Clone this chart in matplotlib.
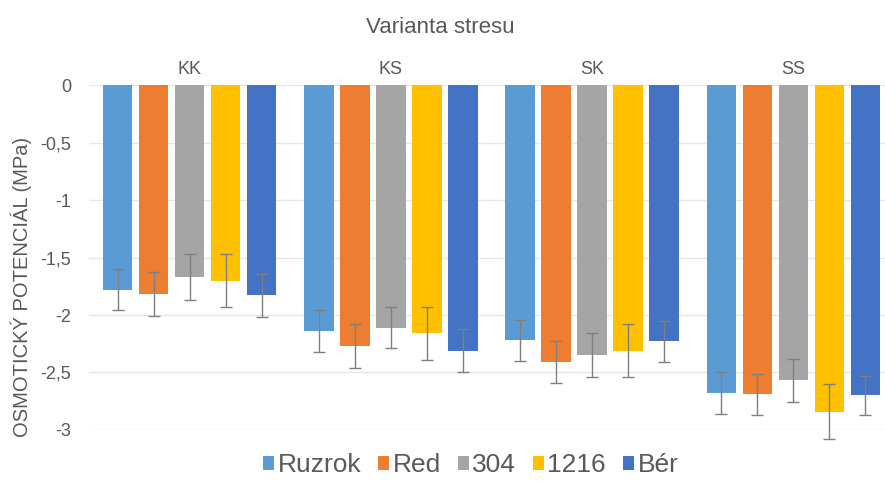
#!/usr/bin/env python3
"""Osmotic potential by stress variant - grouped bars with error bars."""

import numpy as np
import matplotlib.pyplot as plt

plt.rcParams["font.family"] = ["Liberation Sans", "DejaVu Sans"]

groups = ["KK", "KS", "SK", "SS"]
series = ["Ruzrok", "Red", "304", "1216", "Bér"]
colors = ["#5B9BD5", "#ED7D31", "#A5A5A5", "#FFC000", "#4472C4"]

# mean osmotic potential (MPa) per series, one value per group
ruzrok = [-1.78, -2.14, -2.22, -2.68]
red = [-1.82, -2.27, -2.41, -2.69]
v304 = [-1.67, -2.11, -2.35, -2.57]
v1216 = [-1.70, -2.16, -2.31, -2.84]
ber = [-1.83, -2.31, -2.23, -2.70]

# standard deviations
ruzrok_err = [0.18, 0.18, 0.18, 0.18]
red_err = [0.19, 0.19, 0.18, 0.18]
v304_err = [0.20, 0.18, 0.19, 0.19]
v1216_err = [0.23, 0.23, 0.23, 0.24]
ber_err = [0.19, 0.19, 0.18, 0.17]

values = [ruzrok, red, v304, v1216, ber]
errors = [ruzrok_err, red_err, v304_err, v1216_err, ber_err]

text_color = "#595959"

fig = plt.figure(figsize=(8.85, 5.04), dpi=100)
ax = fig.add_axes([0.1006, 0.147, 0.9096, 0.684])

x = np.arange(len(groups))
step = 0.179
width = 0.147
for i, (name, vals, errs, col) in enumerate(zip(series, values, errors, colors)):
    pos = x + (i - 2) * step
    ax.bar(pos, vals, width, color=col, label=name, zorder=2)
    ax.errorbar(pos, vals, yerr=errs, fmt="none", ecolor="#7f7f7f",
                elinewidth=1.0, capsize=4, capthick=1.0, zorder=3,
                clip_on=False)

ax.set_ylim(-3, 0)
ax.set_xlim(-0.5, 3.5)
ticks = np.arange(-3, 0.01, 0.5)
ax.set_yticks(ticks)
ax.set_yticklabels([f"{v:g}".replace(".", ",") for v in ticks])
ax.yaxis.grid(True, color="#e6e6e6", linewidth=1.0, zorder=0)
ax.set_axisbelow(True)

# category labels sit above the zero line
ax.xaxis.tick_top()
ax.set_xticks(x)
ax.set_xticklabels(groups)
ax.tick_params(axis="x", length=0, pad=5, labelsize=13, colors=text_color)
ax.tick_params(axis="y", length=0, pad=13, labelsize=13, colors=text_color)

for s in ax.spines.values():
    s.set_visible(False)

ax.set_ylabel("OSMOTICKÝ POTENCIÁL (MPa)", fontsize=14.5, color=text_color,
              labelpad=4)
ax.yaxis.set_label_coords(-0.071, 0.415)

fig.text(0.497, 0.945, "Varianta stresu", ha="center", va="center",
         fontsize=16, color=text_color)

ax.legend(loc="center", bbox_to_anchor=(0.532, 0.077),
          bbox_transform=fig.transFigure, ncol=5, frameon=False,
          fontsize=19, handlelength=0.42, handleheight=0.42,
          handletextpad=0.12, columnspacing=0.65, labelcolor=text_color)

plt.savefig("out.png", dpi=100)
